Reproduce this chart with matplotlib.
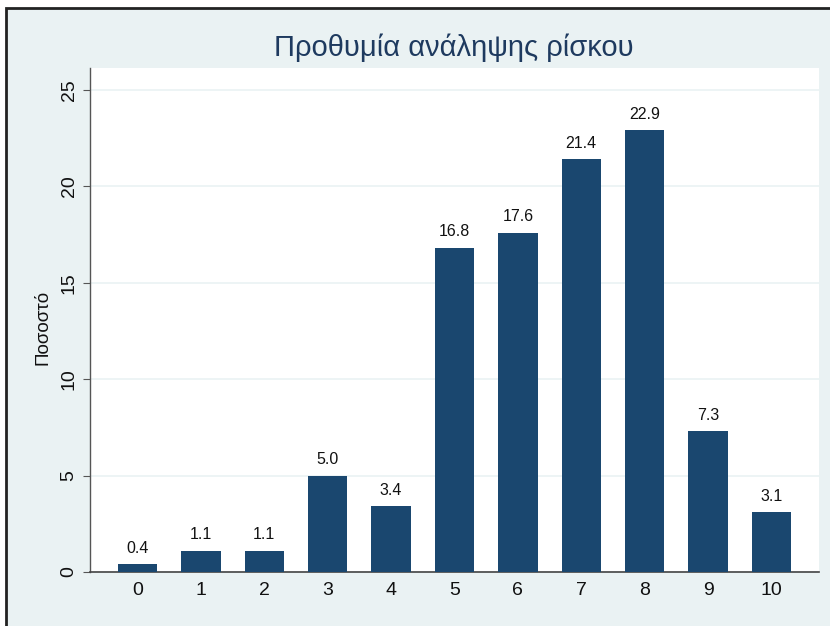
import matplotlib.pyplot as plt
import matplotlib.patches as mpatches
import numpy as np

plt.rcParams['font.family'] = ['Liberation Sans', 'DejaVu Sans']

categories = [0, 1, 2, 3, 4, 5, 6, 7, 8, 9, 10]
values = [0.4, 1.1, 1.1, 5.0, 3.4, 16.8, 17.6, 21.4, 22.9, 7.3, 3.1]
y_ticks = [0, 5, 10, 15, 20, 25]

bg = '#eaf2f3'
bar_col = '#1a476f'

fig = plt.figure(figsize=(8.30, 6.26), dpi=100)
fig.patch.set_facecolor('white')

# outer frame (Stata-like graph region)
frame = mpatches.Rectangle((5.5 / 830, -0.05), 1.2, 1 - 8 / 626 + 0.05,
                           transform=fig.transFigure, facecolor=bg,
                           edgecolor='#222222', linewidth=2, zorder=-5)
fig.patches.append(frame)

ax = fig.add_axes([90 / 830, 1 - 572 / 626, (819 - 90) / 830, (572 - 68) / 626])
ax.set_zorder(5)
ax.set_facecolor('white')

bars = ax.bar(categories, values, width=0.62, color=bar_col, zorder=3)
for xi, v in zip(categories, values):
    ax.text(xi, v + 0.45, '%.1f' % v, ha='center', va='bottom',
            fontsize=11.5, color='#111111', zorder=4)

ax.set_xlim(-0.75, 10.75)
ax.set_ylim(0, 26.14)
ax.set_xticks(categories)
ax.set_yticks(y_ticks)
ax.set_yticklabels([str(t) for t in y_ticks], rotation=90, va='center')
ax.tick_params(axis='both', labelsize=14, colors='#111111')
ax.tick_params(axis='x', length=0, pad=7)
ax.tick_params(axis='y', length=5, color='#555555', pad=4)

ax.yaxis.grid(True, color='#eaf2f3', linewidth=1.2, zorder=0)
ax.set_axisbelow(True)

for side in ['top', 'right']:
    ax.spines[side].set_visible(False)
ax.spines['left'].set_color('#555555')
ax.spines['bottom'].set_color('#444444')
ax.spines['left'].set_linewidth(1)
ax.spines['bottom'].set_linewidth(1.2)

ax.set_ylabel('Ποσοστό', fontsize=13.5, color='#111111')
ax.yaxis.set_label_coords(-0.053, 0.485)
fig.text(454 / 830, 1 - 48 / 626, 'Προθυμία ανάληψης ρίσκου', ha='center', va='center',
         fontsize=21, color='#1e3a5f', zorder=6)

plt.savefig('out.png', dpi=100, facecolor=fig.get_facecolor())
